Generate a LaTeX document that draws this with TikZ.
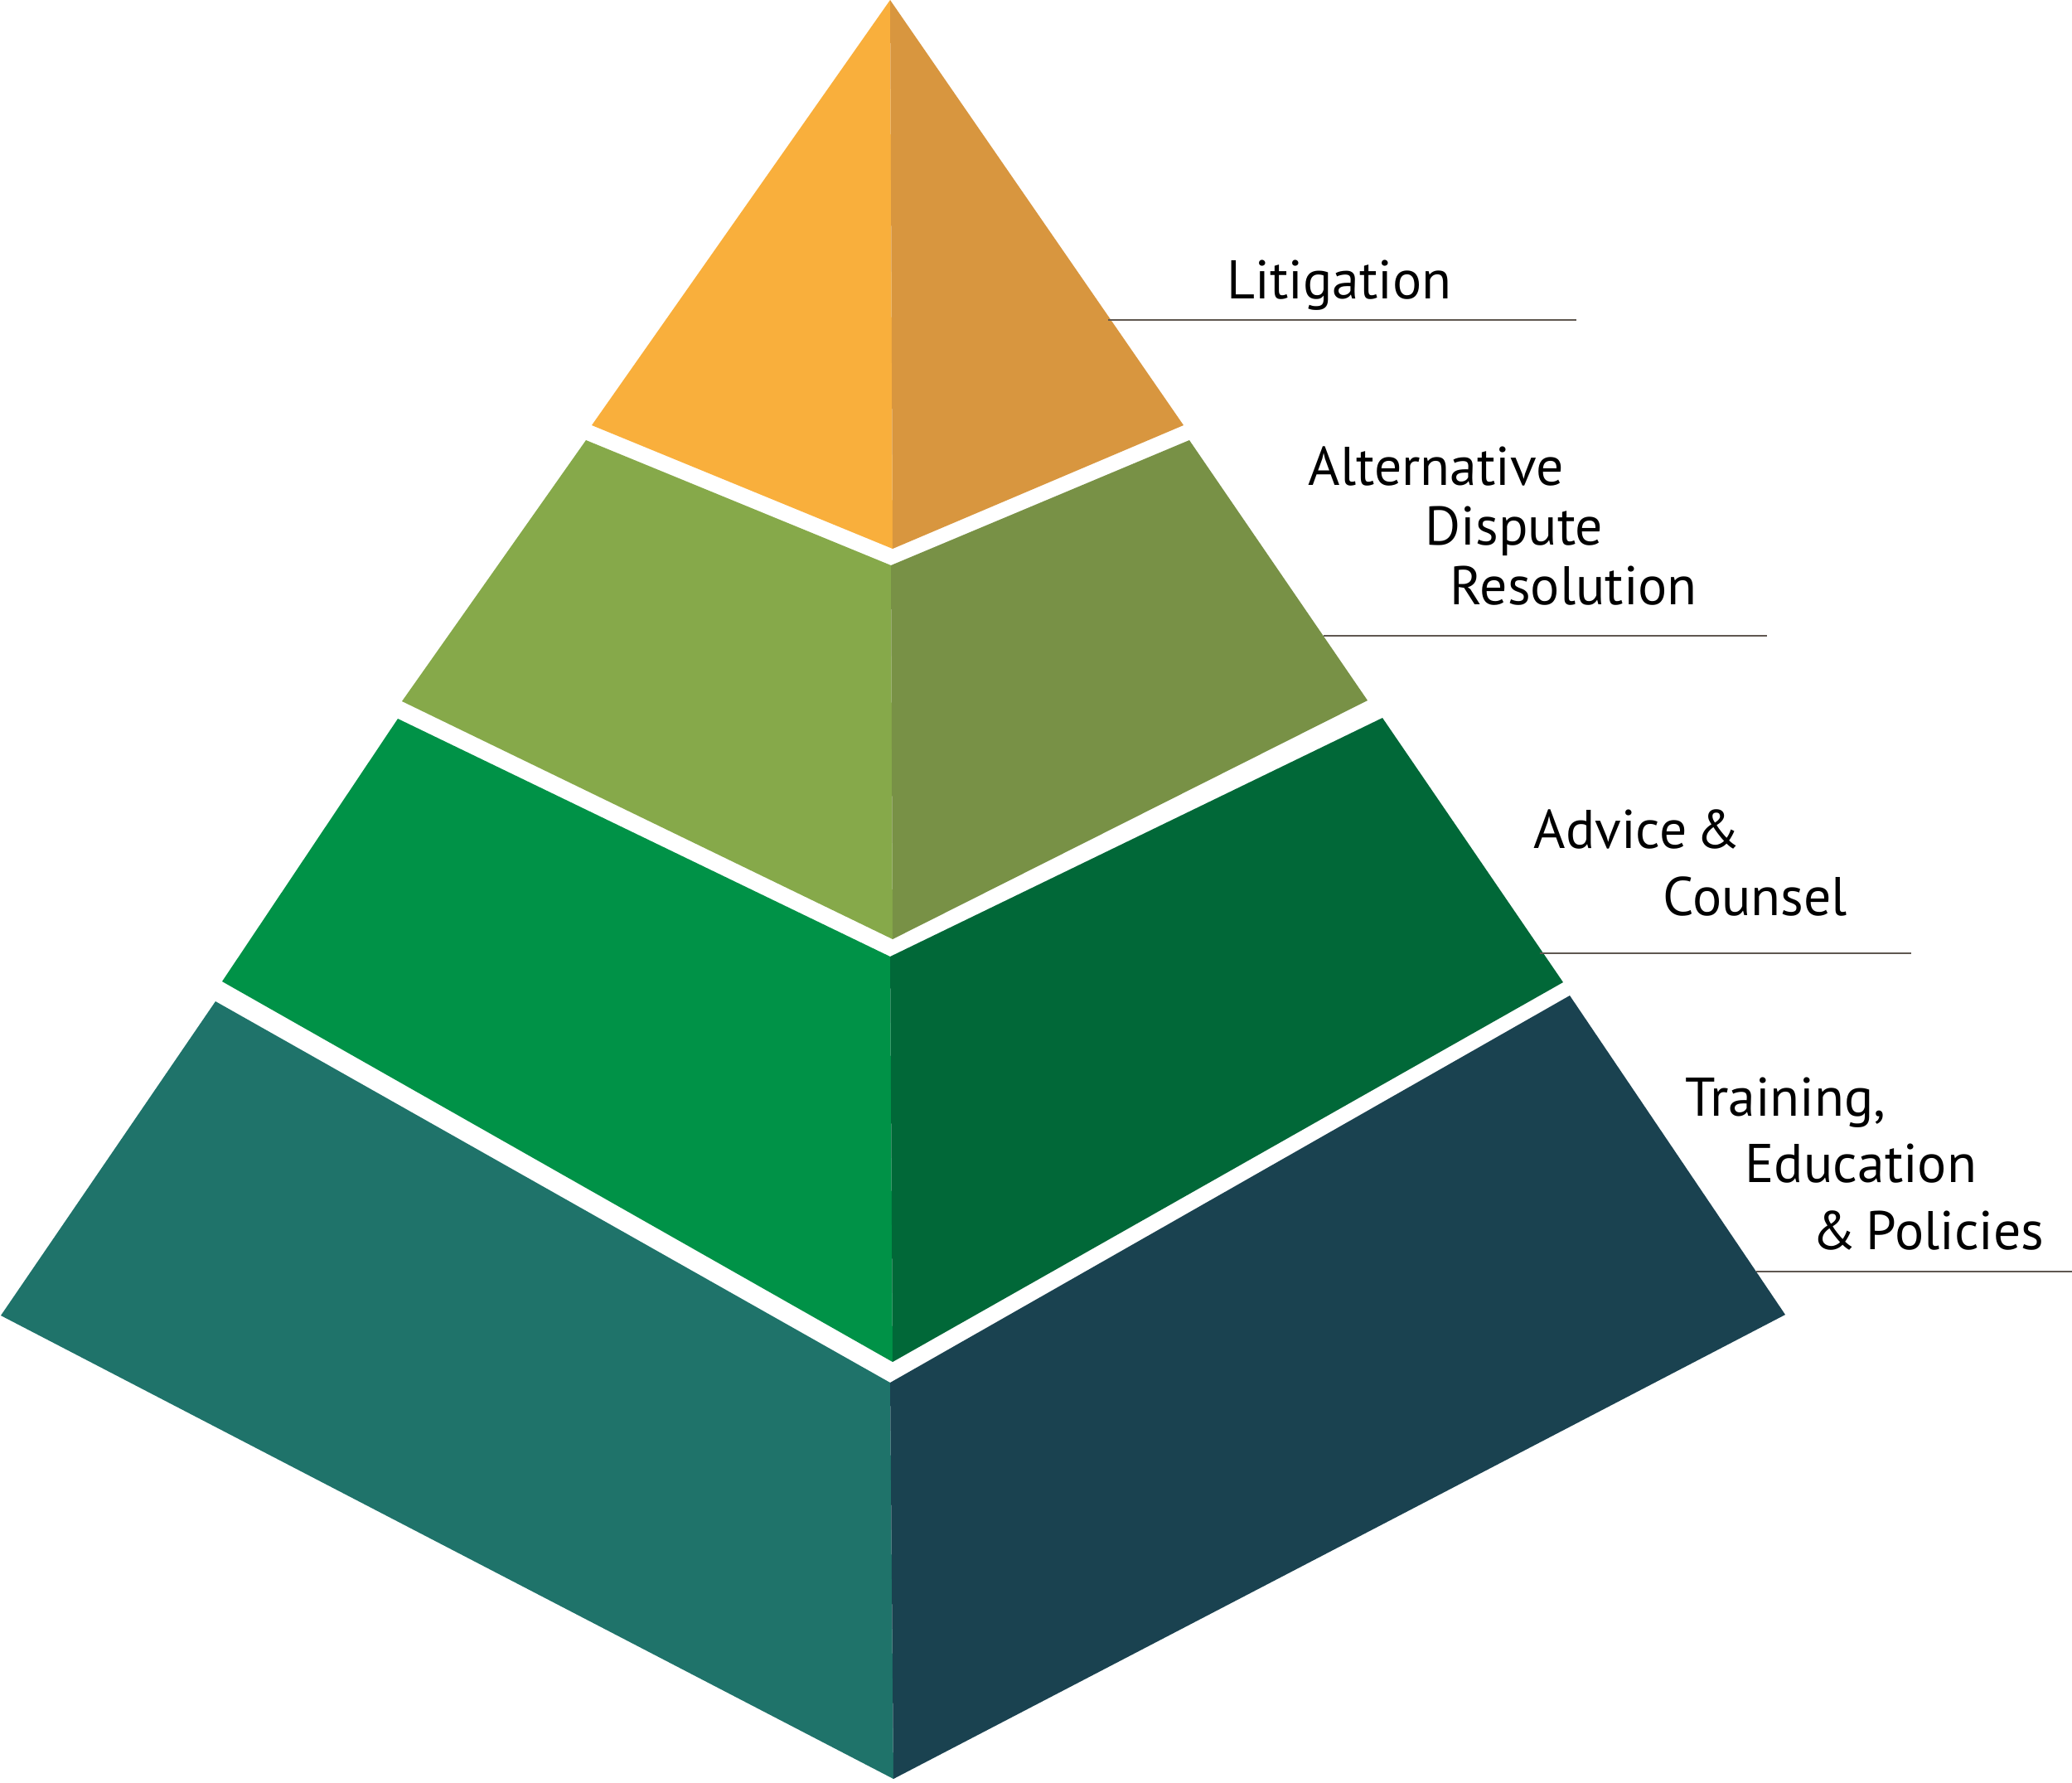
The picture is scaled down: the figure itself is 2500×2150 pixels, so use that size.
\documentclass[tikz,border=0pt]{standalone}
\usepackage{fontspec}
\setmainfont{PT Sans}[WordSpace=0.65]
\definecolor{oL}{HTML}{F9AF3C}
\definecolor{oR}{HTML}{D8963F}
\definecolor{gL}{HTML}{86A94A}
\definecolor{gR}{HTML}{789146}
\definecolor{mL}{HTML}{009247}
\definecolor{mR}{HTML}{016838}
\definecolor{tL}{HTML}{1F736A}
\definecolor{tR}{HTML}{1A4250}
\definecolor{rule}{HTML}{5F5750}
\tikzset{
  lbl/.style={anchor=base west, inner sep=0pt, font=\fontsize{18.7}{22}\selectfont, text=black},
  leader/.style={draw=rule, line width=0.6pt}
}
\begin{document}
\begin{tikzpicture}[x=0.01cm,y=-0.01cm]
\useasboundingbox (0,0) rectangle (2500,2150);
% tier 1
\fill[oL] (1074,0) -- (714,513) -- (1077,662) -- cycle;
\fill[oR] (1074,0) -- (1077,662) -- (1428,513) -- cycle;
% tier 2
\fill[gL] (707,531) -- (1075,682) -- (1077,1133) -- (485,846) -- cycle;
\fill[gR] (1075,682) -- (1435,531) -- (1650,845) -- (1077,1133) -- cycle;
% tier 3
\fill[mL] (480,867) -- (1074,1154) -- (1077,1643) -- (268,1184) -- cycle;
\fill[mR] (1074,1154) -- (1668,866) -- (1886,1185) -- (1077,1643) -- cycle;
% tier 4
\fill[tL] (260,1208) -- (1074,1668) -- (1078,2146) -- (1,1587) -- cycle;
\fill[tR] (1074,1668) -- (1894,1201) -- (2154,1586) -- (1078,2146) -- cycle;
% leader lines
\coordinate (l1a) at (1337,386); \coordinate (l1b) at (1902,386);
\coordinate (l2a) at (1597,767); \coordinate (l2b) at (2132,767);
\coordinate (l3a) at (1858,1150); \coordinate (l3b) at (2306,1150);
\coordinate (l4a) at (2119,1534); \coordinate (l4b) at (2500,1534);
\draw[leader] (l1a) -- (l1b);
\draw[leader] (l2a) -- (l2b);
\draw[leader] (l3a) -- (l3b);
\draw[leader] (l4a) -- (l4b);
% labels
\node[lbl] (lit) at (1480,360) {Litigation};
\node[lbl] (adr1) at (1578,585) {Alternative};
\node[lbl] (adr2) at (1719,657) {Dispute};
\node[lbl] (adr3) at (1749,729) {Resolution};
\node[lbl] (adv1) at (1850,1023) {Advice \&};
\node[lbl] (adv2) at (2006,1104) {Counsel};
\node[lbl] (tr1) at (2033,1346) {Training,};
\node[lbl] (tr2) at (2105,1426) {Education};
\node[lbl] (tr3) at (2186,1507) {\& Policies};
\end{tikzpicture}
\end{document}
